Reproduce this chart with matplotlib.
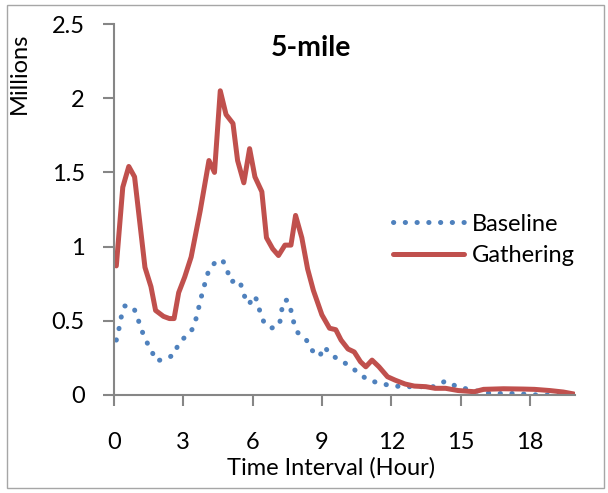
import matplotlib
matplotlib.use("Agg")
import matplotlib.pyplot as plt
from matplotlib.patches import Rectangle

plt.rcParams['font.family'] = ['Lato', 'DejaVu Sans']

# values (hours, millions)
gathering_x = [0.1, 0.38, 0.64, 0.89, 1.34, 1.6, 1.8, 2.14, 2.4, 2.6, 2.8, 3.06, 3.34, 3.73,
               4.11, 4.35, 4.6, 4.85, 5.15, 5.35, 5.62, 5.87, 6.1, 6.4, 6.6, 6.87, 7.12, 7.4,
               7.66, 7.86, 8.13, 8.38, 8.63, 9.0, 9.33, 9.6, 9.83, 10.13, 10.4, 10.67, 10.9,
               11.17, 11.47, 11.84, 12.17, 12.6, 13.0, 13.5, 13.9, 14.35, 14.9, 15.6, 16.0,
               16.86, 17.7, 18.2, 18.86, 19.45, 19.9]
gathering_y = [0.87, 1.40, 1.54, 1.47, 0.86, 0.73, 0.57, 0.53, 0.515, 0.515, 0.69, 0.795, 0.93, 1.24,
               1.58, 1.50, 2.05, 1.89, 1.83, 1.58, 1.43, 1.66, 1.47, 1.37, 1.06, 0.985, 0.94, 1.01,
               1.01, 1.21, 1.06, 0.85, 0.705, 0.54, 0.45, 0.44, 0.37, 0.31, 0.29, 0.224, 0.19,
               0.235, 0.19, 0.123, 0.10, 0.074, 0.06, 0.056, 0.045, 0.045, 0.03, 0.022, 0.038,
               0.042, 0.04, 0.038, 0.03, 0.02, 0.007]

baseline_x = [0.1, 0.22, 0.32, 0.47, 0.85, 1.02, 1.19, 1.37, 1.62, 1.82, 2.16, 2.6, 2.8, 3.14,
              3.43, 3.58, 3.7, 3.81, 3.95, 4.1, 4.41, 4.7, 4.92, 5.08, 5.28, 5.48, 5.6, 5.85,
              6.04, 6.19, 6.32, 6.49, 6.8, 7.16, 7.24, 7.32, 7.49, 7.66, 7.78, 7.96, 8.33, 8.58,
              8.9, 9.1, 9.4, 9.83, 10.2, 10.6, 11.0, 11.5, 11.97, 12.5, 13.2, 13.85, 14.35,
              14.85, 15.35, 15.85, 16.35, 17.36, 17.86, 18.36, 18.86, 19.36, 19.86]
baseline_y = [0.37, 0.45, 0.53, 0.60, 0.59, 0.52, 0.44, 0.37, 0.30, 0.23, 0.24, 0.27, 0.35, 0.40,
              0.45, 0.53, 0.61, 0.68, 0.76, 0.84, 0.90, 0.91, 0.83, 0.76, 0.78, 0.75, 0.68, 0.61,
              0.67, 0.64, 0.56, 0.49, 0.45, 0.47, 0.55, 0.63, 0.64, 0.57, 0.49, 0.42, 0.37, 0.30,
              0.26, 0.325, 0.27, 0.23, 0.197, 0.146, 0.10, 0.08, 0.063, 0.056, 0.056, 0.056, 0.094,
              0.056, 0.038, 0.022, 0.01, 0.01, 0.005, 0.0, 0.0, 0.0, 0.0]

x_ticks = [0, 3, 6, 9, 12, 15, 18]
y_ticks = [0, 0.5, 1, 1.5, 2, 2.5]
y_labels = ["0", "0.5", "1", "1.5", "2", "2.5"]

FS = 17

fig = plt.figure(figsize=(6.08, 4.93), dpi=100)
fig.patches.append(Rectangle((0.011, 0.01), 0.982, 0.98, transform=fig.transFigure,
                             fill=False, edgecolor="#a6a6a6", linewidth=1))
ax = fig.add_axes([0.1875, 0.1988, 0.758, 0.7525])

ax.plot(baseline_x, baseline_y, color="#4F81BD", linewidth=3.6,
        linestyle=(0, (0.05, 2.3)), dash_capstyle="round", label="Baseline")
ax.plot(gathering_x, gathering_y, color="#C0504D", linewidth=3.6,
        solid_capstyle="round", solid_joinstyle="round", label="Gathering")

ax.set_xlim(0, 19.95)
ax.set_ylim(0, 2.5)
ax.set_xticks(x_ticks)
ax.set_yticks(y_ticks)
ax.set_yticklabels(y_labels)

for s in ["top", "right"]:
    ax.spines[s].set_visible(False)
for s in ["left", "bottom"]:
    ax.spines[s].set_color("#868686")
    ax.spines[s].set_linewidth(1.5)
ax.tick_params(axis="both", colors="#868686", labelcolor="black", labelsize=FS,
               width=1.5, length=8)
ax.tick_params(axis="x", pad=19)
ax.tick_params(axis="y", pad=13)

ax.set_xlabel("Time Interval (Hour)", fontsize=FS, va="center")
ax.xaxis.set_label_coords(0.472, -0.197)
ax.set_ylabel("Millions", fontsize=FS, va="center")
ax.yaxis.set_label_coords(-0.206, 0.868)
ax.text(0.427, 0.935, "5-mile", transform=ax.transAxes, fontsize=20.5,
        fontweight="bold", ha="center", va="center")

ax.legend(loc="center left", bbox_to_anchor=(0.605, 0.418), frameon=False, fontsize=FS,
          handlelength=3.0, handletextpad=0.35, labelspacing=0.45, borderaxespad=0,
          borderpad=0)

fig.savefig("out.png", dpi=100)
